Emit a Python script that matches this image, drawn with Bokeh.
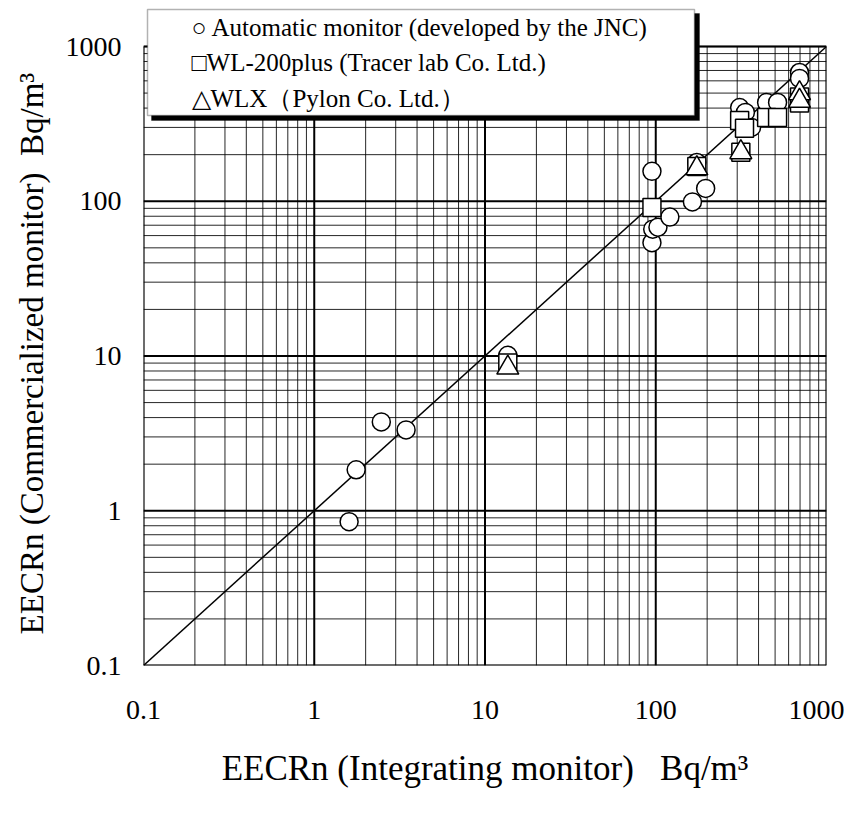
from bokeh.plotting import figure
from bokeh.models import FixedTicker, BoxAnnotation, Label, Range1d
from bokeh.embed import file_html
from bokeh.resources import INLINE

# ---- data ----
tick_values = [0.1, 1, 10, 100, 1000]
tick_labels = ["0.1", "1", "10", "100", "1000"]
minor_values = [m * 10.0 ** e for e in range(-1, 3) for m in range(2, 10)]

one_to_one = [0.1, 1000]

auto_x = [1.6, 1.76, 2.47, 3.45, 13.6, 95, 95, 96, 103, 121, 164, 196, 174, 310, 335, 364, 446, 517, 695, 695]
auto_y = [0.85, 1.84, 3.75, 3.33, 10.1, 156, 54, 66, 68, 79, 99, 121, 178, 403, 375, 300, 435, 435, 679, 622]

wl_x = [13.6, 95, 174, 310, 331, 315, 446, 517, 695, 695]
wl_y = [9.0, 91, 168, 333, 296, 207, 348, 348, 471, 432]

wlx_x = [13.6, 174, 315, 695, 695]
wlx_y = [8.4, 163, 207, 498, 445]

legend_labels = [
    "\u25cb Automatic monitor (developed by the JNC)",
    "\u25a1WL-200plus (Tracer lab Co. Ltd.)",
    "\u25b3WLX\uff08Pylon Co. Ltd.\uff09",
]

FONT = "Liberation Serif"

# ---- layout (pixels) ----
W, H = 844, 798
F_LEFT, F_RIGHT, F_TOP_1000, F_BOTTOM = 143, 826, 46, 665
decade_px = (F_BOTTOM - F_TOP_1000) / 4.0
y_top = 10 ** (3 + F_TOP_1000 / decade_px)   # frame extends above 1000 to host the legend box
X0, X1, Y0, Y1 = 0.1, 1000, 0.1, 1000

p = figure(width=W, height=H, x_axis_type="log", y_axis_type="log",
           x_range=Range1d(X0, X1), y_range=Range1d(Y0, y_top),
           output_backend="svg", toolbar_location=None,
           min_border_left=F_LEFT, min_border_right=W - F_RIGHT,
           min_border_top=0, min_border_bottom=H - F_BOTTOM)

p.background_fill_color = "white"
p.border_fill_color = "white"
p.outline_line_color = None

for ax in (p.xaxis[0], p.yaxis[0]):
    ax.ticker = FixedTicker(ticks=tick_values, minor_ticks=minor_values)
    ax.major_label_overrides = dict(zip(tick_values, tick_labels))
    ax.axis_line_color = None
    ax.major_tick_line_color = None
    ax.minor_tick_line_color = None
    ax.major_tick_out = 0
    ax.minor_tick_out = 0
    ax.major_label_text_font = FONT
    ax.major_label_text_font_size = "28px"
    ax.major_label_text_color = "black"
    ax.axis_label_text_font = FONT
    ax.axis_label_text_font_style = "normal"
    ax.axis_label_text_color = "black"

NB = "\u00a0"
p.xaxis.axis_label = "EECRn (Integrating monitor)" + NB * 3 + "Bq/m\u00b3"
p.yaxis.axis_label = "EECRn (Commercialized monitor)" + NB * 2 + "Bq/m\u00b3" + NB * 5
p.xaxis.axis_label_text_font_size = "35px"
p.yaxis.axis_label_text_font_size = "33px"
p.xaxis.major_label_standoff = 35
p.xaxis.axis_label_standoff = 27
p.yaxis.major_label_standoff = 22
p.yaxis.axis_label_standoff = 13

# grid drawn as segments limited to the 0.1..1000 square
p.xgrid.visible = False
p.ygrid.visible = False
n_min, n_maj = len(minor_values), len(tick_values)
p.segment(x0=minor_values, y0=[Y0] * n_min, x1=minor_values, y1=[Y1] * n_min,
          line_color="black", line_width=1, line_alpha=0.85)
p.segment(x0=[X0] * n_min, y0=minor_values, x1=[X1] * n_min, y1=minor_values,
          line_color="black", line_width=1, line_alpha=0.85)
p.segment(x0=tick_values, y0=[Y0] * n_maj, x1=tick_values, y1=[Y1] * n_maj,
          line_color="black", line_width=2)
p.segment(x0=[X0] * n_maj, y0=tick_values, x1=[X1] * n_maj, y1=tick_values,
          line_color="black", line_width=2)

p.line(one_to_one, one_to_one, line_color="black", line_width=1.5)

p.scatter(auto_x, auto_y, marker="circle", size=18, fill_color="white",
          line_color="black", line_width=1.5)
p.scatter(wl_x, wl_y, marker="square", size=18, fill_color="white",
          line_color="black", line_width=1.5)
p.scatter(wlx_x, wlx_y, marker="triangle", size=22, fill_color="white",
          line_color="black", line_width=1.5)

CANVAS = dict(left_units="canvas", right_units="canvas",
              top_units="canvas", bottom_units="canvas")

# plot border
p.add_layout(BoxAnnotation(left=X0, right=X1, bottom=Y0, top=Y1,
                           fill_alpha=0.0, line_color="black", line_width=2))

# legend box with shadow
p.add_layout(BoxAnnotation(left=151, right=699, top=13, bottom=120,
                           fill_color="black", fill_alpha=1.0,
                           line_color="black", line_width=1, **CANVAS))
p.add_layout(BoxAnnotation(left=147, right=694, top=9, bottom=115,
                           fill_color="white", fill_alpha=1.0,
                           line_color="black", line_width=1.5, **CANVAS))

row_y = [27, 62, 98]
for txt, yy in zip(legend_labels, row_y):
    p.add_layout(Label(x=191, y=yy, x_units="canvas", y_units="canvas",
                       text=txt, text_baseline="middle", text_align="left",
                       text_font=FONT, text_font_size="25px",
                       text_color="black"))

open("out.html", "w").write(file_html(p, INLINE))
